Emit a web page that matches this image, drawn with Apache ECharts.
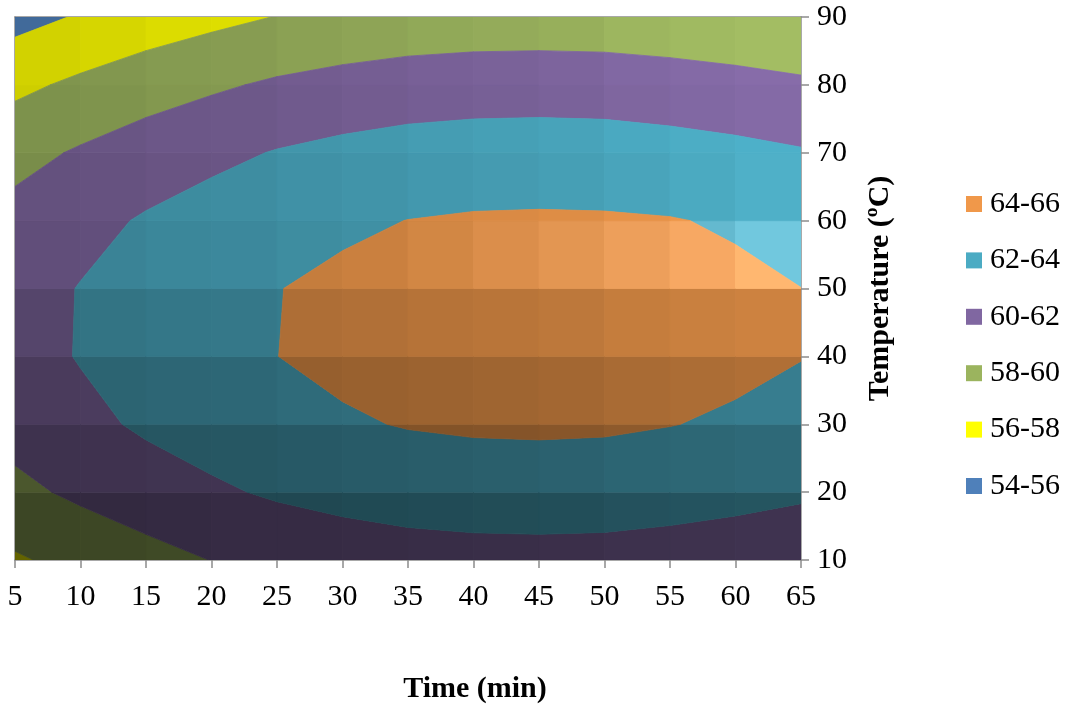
<!DOCTYPE html>
<html>
<head>
<meta charset="utf-8">
<title>Yield surface - time vs temperature</title>
<script src="https://cdn.jsdelivr.net/npm/echarts@6/dist/echarts.min.js"></script>
<style>
  html, body { margin: 0; padding: 0; background: #fff; }
  #chart { width: 1068px; height: 709px; }
</style>
</head>
<body>
<div id="chart"></div>
<script>
'use strict';

// grid of the surface: columns are times, one array per temperature
var times = [5, 10, 15, 20, 25, 30, 35, 40, 45, 50, 55, 60, 65];
var temps = [10, 20, 30, 40, 50, 60, 70, 80, 90];

var z10 = [57.77, 58.59, 59.33, 60.03, 60.48, 60.87, 61.15, 61.29, 61.33, 61.28, 61.10, 60.85, 60.53];
var z20 = [59.54, 60.36, 61.10, 61.70, 62.25, 62.64, 62.92, 63.06, 63.10, 63.05, 62.87, 62.62, 62.30];
var z30 = [60.71, 61.53, 62.27, 62.87, 63.42, 63.81, 64.09, 64.23, 64.27, 64.22, 64.04, 63.79, 63.47];
var z40 = [61.28, 62.10, 62.84, 63.44, 63.99, 64.38, 64.66, 64.80, 64.84, 64.79, 64.61, 64.36, 64.04];
var z50 = [61.25, 62.07, 62.81, 63.41, 63.96, 64.35, 64.63, 64.77, 64.81, 64.76, 64.58, 64.33, 64.01];
var z60 = [60.62, 61.44, 62.18, 62.78, 63.33, 63.72, 64.02, 64.17, 64.21, 64.18, 64.08, 63.82, 63.38];
var z70 = [59.39, 60.21, 60.95, 61.55, 62.10, 62.49, 62.77, 62.91, 62.95, 62.90, 62.72, 62.47, 62.15];
var z80 = [57.56, 58.38, 59.12, 59.72, 60.27, 60.66, 60.94, 61.08, 61.12, 61.07, 60.89, 60.64, 60.32];
var z90 = [55.34, 56.16, 56.90, 57.50, 58.05, 58.44, 58.72, 58.86, 58.90, 58.85, 58.67, 58.42, 58.10];
var zRows = [z10, z20, z30, z40, z50, z60, z70, z80, z90];

var levels = [54, 56, 58, 60, 62, 64, 66];
var bandNames = ['54-56', '56-58', '58-60', '60-62', '62-64', '64-66'];
var bandColors = ['#4F80BA', '#FFFF00', '#9BB45E', '#8067A1', '#4BABC3', '#F0984A'];

var FONT = '"Liberation Serif", "Times New Roman", serif';
var AXIS_GREY = '#8c8c8c';

function zAt(i, j) {
    return zRows[j][i];
}

// keep the part of a polygon that lies above (or below) one level
function clipPoly(poly, lv, above) {
    var out = [];
    for (var k = 0; k < poly.length; k++) {
        var a = poly[k];
        var b = poly[(k + 1) % poly.length];
        var ina = above ? a.z >= lv : a.z <= lv;
        var inb = above ? b.z >= lv : b.z <= lv;
        if (ina) out.push(a);
        if (ina !== inb) {
            var r = (lv - a.z) / (b.z - a.z);
            out.push({ t: a.t + (b.t - a.t) * r, T: a.T + (b.T - a.T) * r, z: lv });
        }
    }
    return out;
}

// rough imitation of the 3D lighting, light comes from the far right
function cellLight(i, j) {
    var z00 = zAt(i, j), z10c = zAt(i + 1, j), z01 = zAt(i, j + 1), z11 = zAt(i + 1, j + 1);
    var gt = (z10c + z11 - z00 - z01) / 2;
    var gT = (z01 + z11 - z00 - z10c) / 2;
    var f = gT > -0.6 ? 0.77 - 0.18 * gT : 0.878 + 0.05 * (-gT - 0.6);
    f *= gt > 0 ? 1 - 0.17 * gt : 1 - 0.3 * gt;
    var d2 = (gt + 0.38) * (gt + 0.38) + (gT + 0.7) * (gT + 0.7);
    var spec = Math.exp(-d2 / 0.12);
    return { f: f + 0.15 * spec, w: 0.2 * spec };
}

function shade(hex, light) {
    var c = [1, 3, 5].map(function(p) { return parseInt(hex.slice(p, p + 2), 16); });
    var out = c.map(function(v) {
        var n = Math.min(255, v * light.f);
        n = n + (255 - n) * light.w;
        return Math.max(0, Math.min(255, Math.round(n)));
    });
    return 'rgb(' + out.join(',') + ')';
}

var cells = [];
for (var i = 0; i < times.length - 1; i++) {
    for (var j = 0; j < temps.length - 1; j++) {
        cells.push([times[i], temps[j], i, j]);
    }
}

function bandSeries(b) {
    return {
        name: bandNames[b],
        type: 'custom',
        clip: true,
        itemStyle: { color: bandColors[b] },
        encode: { x: 0, y: 1 },
        data: cells,
        renderItem: function(params, api) {
            var ci = api.value(2), cj = api.value(3);
            var poly = [
                { t: times[ci], T: temps[cj], z: zAt(ci, cj) },
                { t: times[ci + 1], T: temps[cj], z: zAt(ci + 1, cj) },
                { t: times[ci + 1], T: temps[cj + 1], z: zAt(ci + 1, cj + 1) },
                { t: times[ci], T: temps[cj + 1], z: zAt(ci, cj + 1) }
            ];
            poly = clipPoly(poly, levels[b], true);
            if (poly.length < 3) return null;
            poly = clipPoly(poly, levels[b + 1], false);
            if (poly.length < 3) return null;
            var pts = poly.map(function(p) { return api.coord([p.t, p.T]); });
            var col = shade(bandColors[b], cellLight(ci, cj));
            return {
                type: 'polygon',
                shape: { points: pts },
                style: { fill: col, stroke: col, lineWidth: 0.8 }
            };
        }
    };
}

var chart = echarts.init(document.getElementById('chart'));

var series = [];
for (var b = 0; b < bandNames.length; b++) series.push(bandSeries(b));

chart.setOption({
    animation: false,
    backgroundColor: '#fff',
    grid: { left: 15, right: 267, top: 17, bottom: 147 },
    legend: {
        orient: 'vertical',
        left: 966,
        top: 189,
        padding: 0,
        icon: 'rect',
        itemWidth: 16,
        itemHeight: 16,
        itemGap: 26.4,
        selectedMode: false,
        data: bandNames.slice().reverse(),
        textStyle: { fontFamily: FONT, fontSize: 30, lineHeight: 30, color: '#000', padding: [0, 0, 0, 3] }
    },
    xAxis: [{
        type: 'value',
        position: 'bottom',
        min: 5,
        max: 65,
        interval: 5,
        splitLine: { show: false },
        axisLine: { lineStyle: { color: AXIS_GREY, width: 1.5 } },
        axisTick: { length: 8, lineStyle: { color: AXIS_GREY, width: 1.5 } },
        axisLabel: { margin: 22, fontFamily: FONT, fontSize: 30, color: '#000' },
        name: 'Time (min)',
        nameLocation: 'middle',
        nameGap: 114,
        nameTextStyle: { fontFamily: FONT, fontSize: 30, fontWeight: 'bold', color: '#000', padding: [0, 0, 0, 134] }
    }, {
        type: 'value',
        position: 'top',
        min: 5,
        max: 65,
        interval: 5,
        splitLine: { show: false },
        axisLine: { lineStyle: { color: AXIS_GREY, width: 1.5 } },
        axisTick: { show: false },
        axisLabel: { show: false }
    }],
    yAxis: [{
        type: 'value',
        position: 'right',
        min: 10,
        max: 90,
        interval: 10,
        splitLine: { show: false },
        axisLine: { lineStyle: { color: AXIS_GREY, width: 1.5 } },
        axisTick: { length: 8, lineStyle: { color: AXIS_GREY, width: 1.5 } },
        axisLabel: { margin: 16, fontFamily: FONT, fontSize: 30, color: '#000' },
        name: 'Temperature (ºC)',
        nameLocation: 'middle',
        nameRotate: 90,
        nameGap: 64,
        nameTextStyle: { fontFamily: FONT, fontSize: 30, fontWeight: 'bold', color: '#000' }
    }, {
        type: 'value',
        position: 'left',
        min: 10,
        max: 90,
        interval: 10,
        splitLine: { show: false },
        axisLine: { lineStyle: { color: AXIS_GREY, width: 1.5 } },
        axisTick: { show: false },
        axisLabel: { show: false }
    }],
    series: series
});
</script>
</body>
</html>
